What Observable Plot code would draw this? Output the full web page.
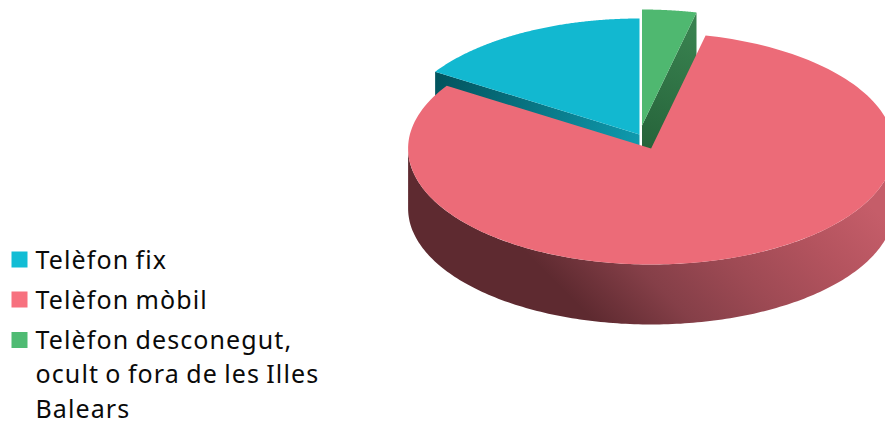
<!DOCTYPE html>
<html lang="ca">
<head>
<meta charset="utf-8">
<title>Telèfon</title>
<style>
  html, body { margin: 0; padding: 0; background: #fff; overflow: hidden; }
  svg text { letter-spacing: 1.1px; word-spacing: -1.3px; }
</style>
<script src="https://cdn.jsdelivr.net/npm/d3@7"></script>
<script src="https://cdn.jsdelivr.net/npm/@observablehq/plot@0.6"></script>
</head>
<body>
<script>
// Shares of each phone type; the slices run anticlockwise from twelve o'clock.
const categories = [
  "Telèfon fix",
  "Telèfon mòbil",
  "Telèfon desconegut,\nocult o fora de les Illes\nBalears"
];
const shares = [15.9, 80.5, 3.6];

// Colours per category: legend swatch, top face, and the colour ramp of the side wall.
const swatchColors = ["#12bdd5", "#f7717f", "#4fbb73"];
const topColors = ["#12b8d0", "#ec6b78", "#4fb870"];
const wallStops = [
  ["#02545e", "#0f9aae"],
  ["#5e2a30", "#853f48", "#9e4a54", "#b3535e", "#c55d69"],
  ["#38814f", "#26633a"]
];

// Pie geometry in pixels: radii of the tilted disc, wall depth, and exploded centre of each slice.
const radiusX = 243;
const radiusY = 116;
const depth = 60;
const centers = [[639, 134], [650.6, 148], [641.5, 125]];
// Gradient vectors for the three side walls.
const wallVectors = [
  [[436, 80], [640, 140]],
  [[563, 290], [759, 94]],
  [[695, 30], [645, 150]]
];

// Turn the shares into angular spans, running anticlockwise from twelve o'clock.
const total = d3.sum(shares);
let cursor = 360;
const spans = shares.map((s) => {
  const end = cursor;
  cursor -= (s / total) * 360;
  return [cursor, end];
});

const rim = (i, deg, drop = 0) => {
  const a = (deg * Math.PI) / 180;
  return {
    x: centers[i][0] + radiusX * Math.sin(a),
    y: centers[i][1] - radiusY * Math.cos(a) + drop
  };
};
const arc = (i, from, to, drop = 0) =>
  d3.range(0, 181).map((k) => rim(i, from + ((to - from) * k) / 180, drop));
const hub = (i, drop = 0) => ({ x: centers[i][0], y: centers[i][1] + drop });

const topFace = (i) => [hub(i), ...arc(i, spans[i][0], spans[i][1])];
// Flat cut face of a slice, hanging from one radial edge.
const cutFace = (i, deg) => [hub(i), rim(i, deg), rim(i, deg, depth), hub(i, depth)];
// Curved outer wall between two angles.
const outerWall = (i, from, to) => [...arc(i, from, to), ...arc(i, to, from, depth)];

const area = (points, fill) =>
  Plot.line(points, { x: "x", y: "y", fill, stroke: "none", curve: "linear" });

// Side-wall gradients live in a small defs block.
const defs = () => {
  const d = d3.create("svg:defs");
  wallStops.forEach((stops, i) => {
    const g = d.append("linearGradient")
      .attr("id", `wall-${i}`)
      .attr("gradientUnits", "userSpaceOnUse")
      .attr("x1", wallVectors[i][0][0]).attr("y1", wallVectors[i][0][1])
      .attr("x2", wallVectors[i][1][0]).attr("y2", wallVectors[i][1][1]);
    stops.forEach((c, k) => g.append("stop").attr("offset", k / (stops.length - 1)).attr("stop-color", c));
  });
  return d.node();
};

// Legend rows: top of each swatch and top of each text block.
const legendRows = [251.5, 291.5, 332];
const swatchSize = 16;
const legendFont = "'Noto Sans', sans-serif";

const chart = Plot.plot({
  width: 885,
  height: 421,
  margin: 0,
  x: { domain: [0, 885], range: [0, 885], axis: null },
  y: { domain: [0, 421], range: [0, 421], axis: null },
  style: { background: "#fff" },
  marks: [
    defs,
    // Back slices first; the large slice overlaps their hidden walls.
    area(cutFace(0, spans[0][0]), "url(#wall-0)"),
    area(topFace(0), topColors[0]),
    area(cutFace(2, spans[2][1]), "url(#wall-2)"),
    area(topFace(2), topColors[2]),
    area(outerWall(1, 90, 270), "url(#wall-1)"),
    area(topFace(1), topColors[1]),
    // Legend
    Plot.rect(categories, {
      x1: () => 11.5,
      x2: () => 11.5 + swatchSize,
      y1: (_, i) => legendRows[i],
      y2: (_, i) => legendRows[i] + swatchSize,
      fill: (_, i) => swatchColors[i]
    }),
    Plot.text(categories, {
      x: () => 35,
      y: (_, i) => legendRows[i] - 8,
      text: (d) => d,
      textAnchor: "start",
      lineAnchor: "top",
      lineHeight: 1.38,
      fontSize: 25,
      fontFamily: legendFont,
      fill: "#0a0a0a"
    })
  ]
});
document.body.append(chart);
</script>
</body>
</html>
